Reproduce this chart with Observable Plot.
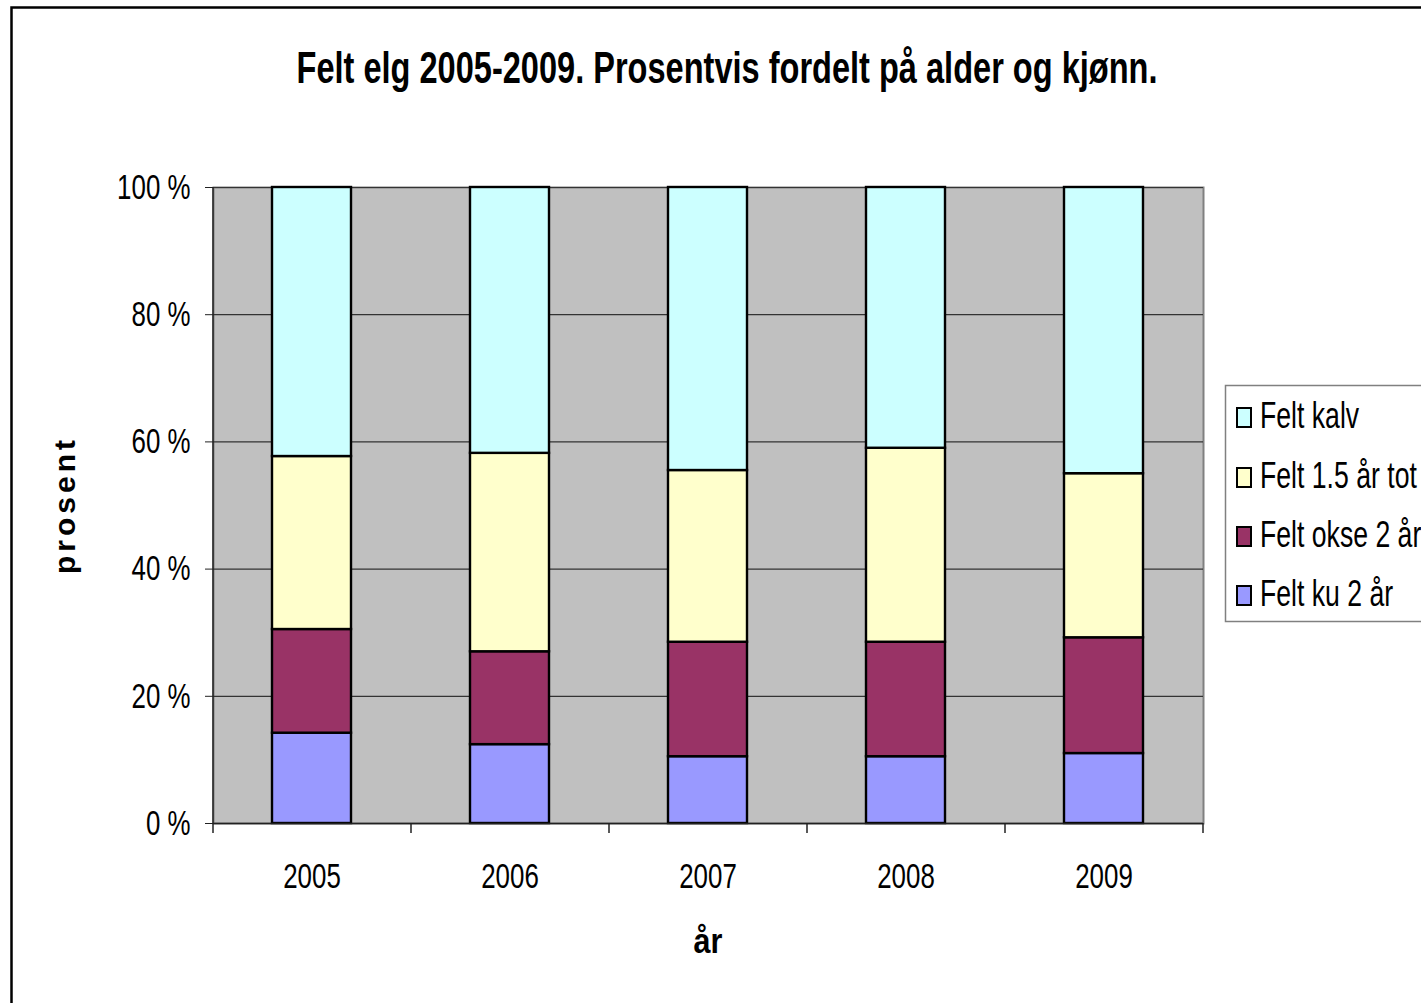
<!DOCTYPE html>
<html><head><meta charset="utf-8">
<script src="https://cdn.jsdelivr.net/npm/d3@7"></script>
<script src="https://cdn.jsdelivr.net/npm/@observablehq/plot@0.6"></script>
<style>
html,body{margin:0;padding:0;background:#fff;overflow:hidden;width:1421px;height:1003px}
#chart{position:relative;width:1421px;height:1003px}
</style>
</head><body><div id="chart"></div>
<script>
const years = ["2005", "2006", "2007", "2008", "2009"];
const seriesNames = ["Felt ku 2 år", "Felt okse 2 år", "Felt 1.5 år tot", "Felt kalv"];
const ku   = [14.2, 12.4, 10.5, 10.5, 11.0];
const okse = [16.3, 14.6, 18.0, 18.0, 18.2];
const aar15 = [27.2, 31.2, 27.0, 30.5, 25.8];
const kalv = [42.3, 41.8, 44.5, 41.0, 45.0];
const colors = ["#9999ff", "#993366", "#ffffcc", "#ccffff"];
const yTicks = [0, 20, 40, 60, 80, 100];
const titleText = "Felt elg 2005-2009. Prosentvis fordelt på alder og kjønn.";
const yLabel = "prosent";
const xLabel = "år";

const seriesValues = [ku, okse, aar15, kalv];
const data = [];
seriesValues.forEach((vals, i) => years.forEach((y, j) => data.push({year: y, series: seriesNames[i], value: vals[j]})));

const FONT = "'Liberation Sans Narrow','Arial Narrow','Liberation Sans',Arial,sans-serif";
const NARROW = 0.74;

const chart = Plot.plot({
  width: 1421, height: 1003,
  marginLeft: 213, marginRight: 218, marginTop: 187, marginBottom: 180,
  style: {fontFamily: FONT, background: "white", color: "black", overflow: "visible"},
  x: {domain: years, paddingInner: 0.6, paddingOuter: 0.3, label: null},
  y: {domain: [0, 100], label: null},
  color: {domain: seriesNames, range: colors},
  marks: [
    Plot.frame({fill: "#c0c0c0", stroke: "#808080", strokeWidth: 2}),
    Plot.gridY(yTicks, {stroke: "#333", strokeOpacity: 1, strokeWidth: 1.2}),
    Plot.barY(data, {x: "year", y: "value", fill: "series", stroke: "black", strokeWidth: 2.4}),
    Plot.ruleY([0], {stroke: "#222", strokeWidth: 1.5}),
    Plot.axisY({ticks: yTicks, tickFormat: d => d + " %", fontSize: 35, tickSize: 8, tickPadding: 15, stroke: "#222"}),
    Plot.axisX({tickSize: 0, fontSize: 35, tickPadding: 40})
  ]
});
document.getElementById("chart").appendChild(chart);

const svg = d3.select(chart);
// narrow the tick labels (no condensed font installed)
svg.selectAll('g[aria-label="y-axis tick label"] text, g[aria-label="x-axis tick label"] text').each(function() {
  const t = this.getAttribute("transform") || "";
  this.setAttribute("transform", t + ` scale(${NARROW},1)`);
});

const xs = chart.scale("x");
const ys = chart.scale("y");
const step = xs.step;
const x0 = xs.range[0];
const yBottom = ys.apply(0), yTop = ys.apply(100);

// left axis line
svg.append("line").attr("x1", x0).attr("x2", x0).attr("y1", yTop).attr("y2", yBottom)
  .attr("stroke", "#222").attr("stroke-width", 1.5);
// category boundary ticks
for (let i = 0; i <= years.length; i++) {
  const bx = x0 + i * step;
  svg.append("line").attr("x1", bx).attr("x2", bx).attr("y1", yBottom).attr("y2", yBottom + 10)
    .attr("stroke", "#222").attr("stroke-width", 1.5);
}

// outer chart border
svg.append("rect").attr("x", 11.5).attr("y", 7.5).attr("width", 1500).attr("height", 1100)
  .attr("fill", "none").attr("stroke", "black").attr("stroke-width", 2.5);

// title
svg.append("text").attr("transform", "translate(727,83) scale(0.74,1)").attr("text-anchor", "middle")
  .attr("font-family", FONT).attr("font-weight", "bold").attr("font-size", 44).text(titleText);

// axis titles
svg.append("text").attr("transform", "translate(75,505) rotate(-90)").attr("text-anchor", "middle")
  .attr("font-family", FONT).attr("font-weight", "bold").attr("font-size", 30)
  .attr("letter-spacing", 4).text(yLabel);
svg.append("text").attr("transform", "translate(708,953) scale(0.85,1)").attr("text-anchor", "middle")
  .attr("font-family", FONT).attr("font-weight", "bold").attr("font-size", 36).text(xLabel);

// legend
const lg = svg.append("g");
lg.append("rect").attr("x", 1225.5).attr("y", 385.5).attr("width", 260).attr("height", 236)
  .attr("fill", "white").attr("stroke", "#808080").attr("stroke-width", 1.5);
const legendOrder = seriesNames.slice().reverse();
const legendColors = colors.slice().reverse();
const legendBase = [428, 488, 547, 606];
legendOrder.forEach((name, i) => {
  lg.append("rect").attr("x", 1237).attr("y", legendBase[i] - 20).attr("width", 14).attr("height", 19)
    .attr("fill", legendColors[i]).attr("stroke", "black").attr("stroke-width", 2);
  lg.append("text").attr("transform", `translate(1260,${legendBase[i]}) scale(0.72,1)`)
    .attr("text-anchor", "start")
    .attr("font-family", FONT).attr("font-size", 37).text(name);
});
</script>
</body></html>
